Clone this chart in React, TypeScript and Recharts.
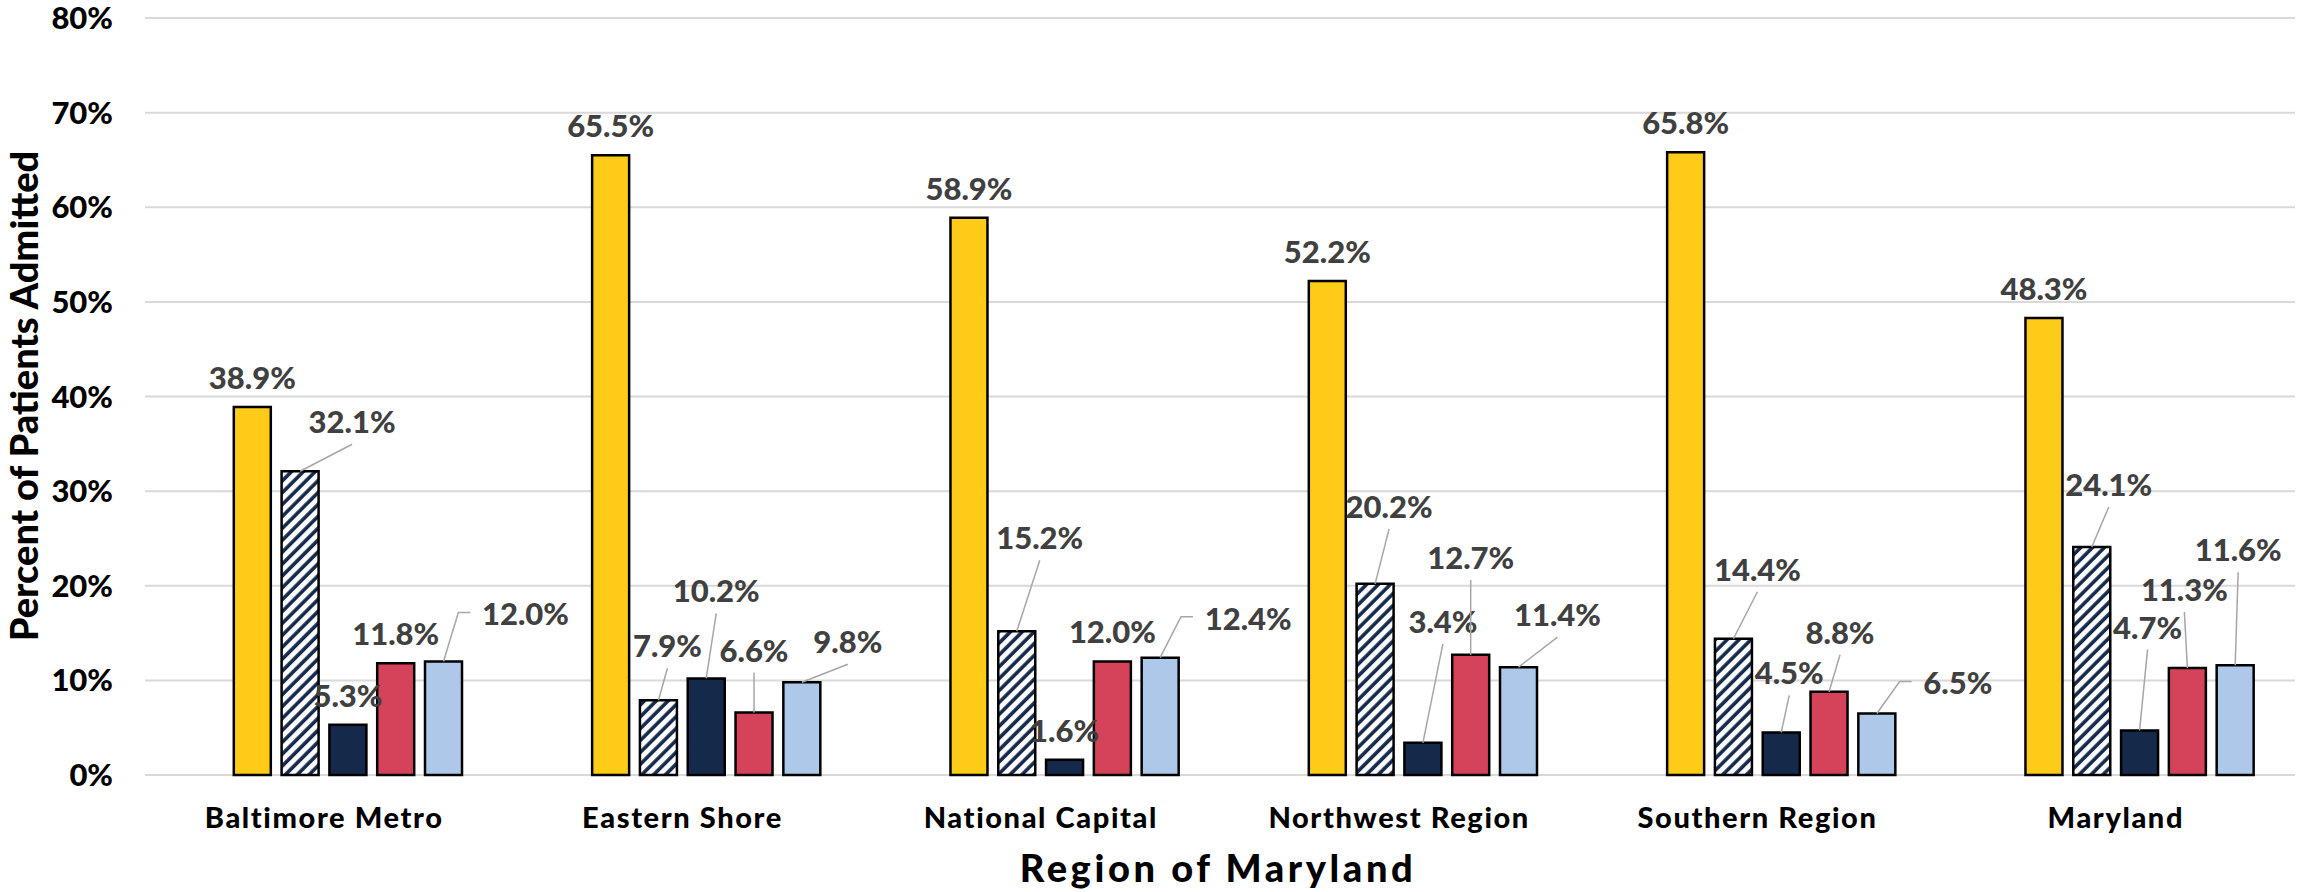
import { BarChart, Bar, XAxis, YAxis, CartesianGrid, LabelList } from 'recharts';

// regions along the category axis
const regions = ['Baltimore Metro', 'Eastern Shore', 'National Capital', 'Northwest Region', 'Southern Region', 'Maryland'];

// percent of patients admitted, one array per series (left to right in each group)
const goldSeries = [38.9, 65.5, 58.9, 52.2, 65.8, 48.3];
const hatchSeries = [32.1, 7.9, 15.2, 20.2, 14.4, 24.1];
const navySeries = [5.3, 10.2, 1.6, 3.4, 4.5, 4.7];
const redSeries = [11.8, 6.6, 12.0, 12.7, 8.8, 11.3];
const blueSeries = [12.0, 9.8, 12.4, 11.4, 6.5, 11.6];

const yTicks = [0, 10, 20, 30, 40, 50, 60, 70, 80];

// where each data label was dragged to in the original: [dx, dy, leader] from the bar top centre
// leader: 0 none, 1 straight, 2 elbow
const DEF = [0, -29, 0];
const goldLabels = [DEF, DEF, DEF, DEF, DEF, DEF];
const hatchLabels = [[52, -49, 1], [9, -54, 1], [23, -93, 1], [14, -77, 1], [24, -69, 1], [17, -62, 1]];
const navyLabels = [DEF, [10, -87, 1], DEF, [20, -121, 1], [8, -59, 1], [8, -103, 1]];
const redLabels = [DEF, [0, -62, 1], DEF, [0, -97, 1], [11, -59, 1], [-3, -78, 1]];
const blueLabels = [[82, -47, 2], [46, -40, 1], [88, -39, 2], [39, -52, 1], [81, -30, 2], [3, -115, 1]];

const rows = regions.map((region, i) => ({
  region,
  gold: goldSeries[i],
  hatch: hatchSeries[i],
  navy: navySeries[i],
  red: redSeries[i],
  blue: blueSeries[i],
}));

const FONT = 'Lato, "Open Sans", sans-serif';
const LABEL_SIZE = 31;

const textWidth = (s: string) => {
  let w = 0;
  for (const c of s) w += c === '.' ? 0.27 : c === '%' ? 0.84 : 0.58;
  return w * LABEL_SIZE;
};

const makeLabel = (layout: number[][]) => (props: any) => {
  const { x, y, width, value, index } = props;
  if (value == null) return null;
  const [dx, dy, kind] = layout[index];
  const bx = x + width / 2;
  const cx = bx + dx;
  const cy = y + dy;
  const txt = `${value.toFixed(1)}%`;
  let leader = null;
  if (kind === 1) {
    leader = <line x1={bx} y1={y} x2={cx} y2={cy + 22} stroke="#a6a6a6" strokeWidth={1.5} />;
  } else if (kind === 2) {
    const left = cx - textWidth(txt) / 2;
    leader = <polyline points={`${bx},${y} ${left - 23},${cy - 2} ${left - 11},${cy - 2}`} fill="none" stroke="#a6a6a6" strokeWidth={1.5} />;
  }
  return (
    <g>
      {leader}
      <text x={cx} y={cy + 11} textAnchor="middle" fontFamily={FONT} fontWeight={900} fontSize={LABEL_SIZE} fill="#404040">
        {txt}
      </text>
    </g>
  );
};

const xTitle = (props: any) => {
  const { viewBox } = props;
  return (
    <text x={viewBox.x + viewBox.width / 2 - 2} y={882} textAnchor="middle" fontFamily={FONT} fontWeight={900} fontSize={38} letterSpacing={3.6} fill="#000">
      Region of Maryland
    </text>
  );
};

const yTitle = () => (
  <text x={0} y={0} transform="translate(23,396) rotate(-90)" textAnchor="middle" dominantBaseline="central" fontFamily={FONT} fontWeight={900} fontSize={38} fill="#000">
    Percent of Patients Admitted
  </text>
);

const barStroke = { stroke: '#000', strokeWidth: 2.5 };

export default function App() {
  return (
    <div style={{ position: 'absolute', left: 0, top: 0, width: 2298, height: 892, background: '#fff' }}>
      <BarChart width={2298} height={892} data={rows} margin={{ top: 18, right: 3, bottom: 0, left: 0 }} barSize={37} barGap={10.8}>
        <defs>
          <pattern id="hatch" patternUnits="userSpaceOnUse" width="8.4" height="8.4" patternTransform="rotate(45)">
            <rect width="8.4" height="8.4" fill="#fff" />
            <line x1="2" y1="0" x2="2" y2="8.4" stroke="#14294b" strokeWidth={3.6} />
          </pattern>
        </defs>
        <CartesianGrid vertical={false} stroke="#d9d9d9" strokeWidth={2} />
        <XAxis dataKey="region" height={117} axisLine={false} tickLine={false} tickSize={0} tickMargin={32} interval={0}
          tick={{ fill: '#000', fontSize: 29, fontWeight: 900, fontFamily: FONT, letterSpacing: 1.6 }} label={xTitle} />
        <YAxis width={145} domain={[0, 80]} ticks={yTicks} axisLine={false} tickLine={false} tickSize={0} tickMargin={32}
          tickFormatter={(v) => `${v}%`} tick={{ fill: '#000', fontSize: 31, fontWeight: 900, fontFamily: FONT }} label={yTitle} />
        {/* empty first series kept from the source workbook, it only takes a slot */}
        <Bar dataKey="spacer" fill="none" stroke="none" isAnimationActive={false} />
        <Bar dataKey="gold" fill="#fdcb18" {...barStroke} isAnimationActive={false}>
          <LabelList dataKey="gold" content={makeLabel(goldLabels)} />
        </Bar>
        <Bar dataKey="hatch" fill="url(#hatch)" {...barStroke} isAnimationActive={false}>
          <LabelList dataKey="hatch" content={makeLabel(hatchLabels)} />
        </Bar>
        <Bar dataKey="navy" fill="#152a4a" {...barStroke} isAnimationActive={false}>
          <LabelList dataKey="navy" content={makeLabel(navyLabels)} />
        </Bar>
        <Bar dataKey="red" fill="#d5435b" {...barStroke} isAnimationActive={false}>
          <LabelList dataKey="red" content={makeLabel(redLabels)} />
        </Bar>
        <Bar dataKey="blue" fill="#aec8e9" {...barStroke} isAnimationActive={false}>
          <LabelList dataKey="blue" content={makeLabel(blueLabels)} />
        </Bar>
      </BarChart>
    </div>
  );
}
